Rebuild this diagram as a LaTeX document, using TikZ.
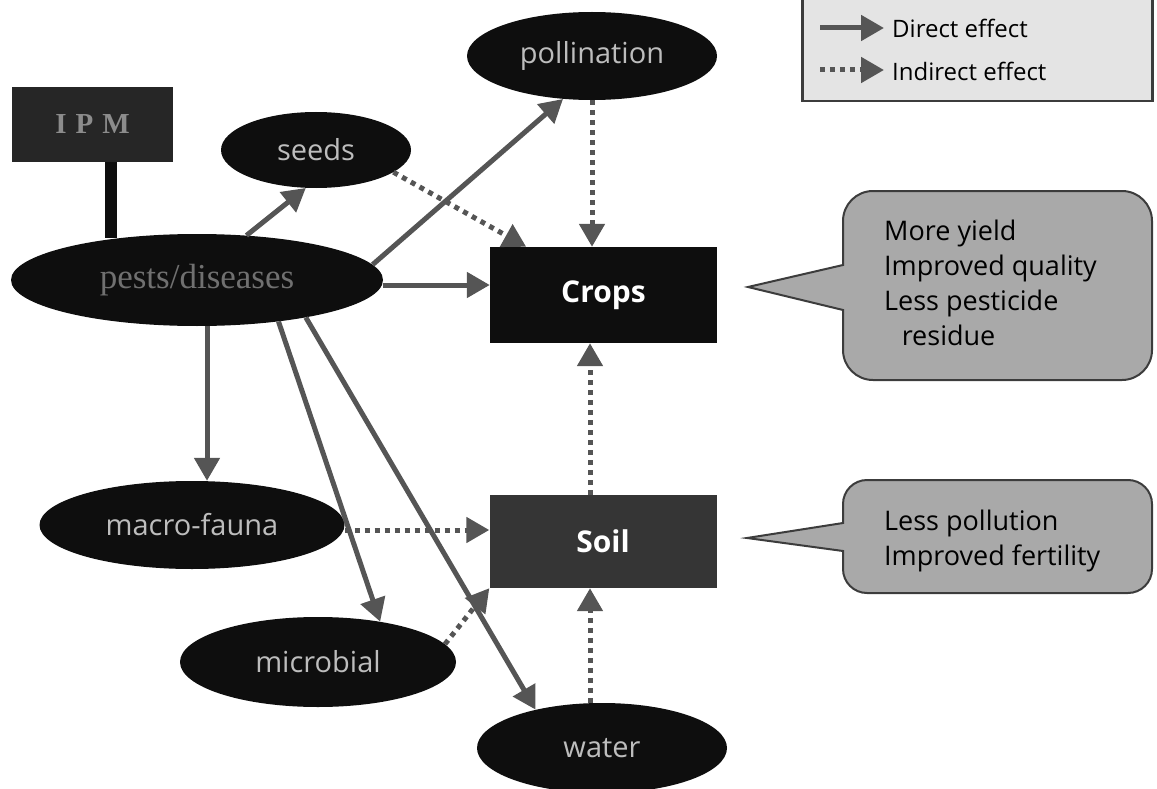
\documentclass[tikz,border=0pt]{standalone}
\usepackage{fontspec}
\setmainfont{Open Sans}
\newfontfamily\serifx{Liberation Serif}
\usetikzlibrary{arrows.meta,shapes.geometric,calc}
\definecolor{arr}{HTML}{555555}
\definecolor{nodeblack}{HTML}{0E0E0E}
\definecolor{soilfill}{HTML}{353535}
\definecolor{elltext}{HTML}{BDBDBD}
\definecolor{peststext}{HTML}{707070}
\definecolor{ipmtext}{HTML}{8C8C8C}
\definecolor{callfill}{HTML}{A9A9A9}
\definecolor{callline}{HTML}{3C3C3C}
\definecolor{legfill}{HTML}{E4E4E4}
\begin{document}
\begin{tikzpicture}[x=1pt,y=-1pt,
  ell/.style={ellipse, fill=nodeblack, text=elltext, inner sep=0pt,
    font=\fontsize{29}{29}\selectfont},
  boxnode/.style={rectangle, inner sep=0pt, text=white,
    font=\bfseries\fontsize{30}{30}\selectfont},
  direct/.style={draw=arr, line width=5pt, -{Triangle[length=23pt,width=25pt]}},
  indirect/.style={draw=arr, line width=5pt, dash pattern=on 5pt off 5pt,
    -{Triangle[length=23pt,width=25pt]}},
  calloutbox/.style={fill=callfill, draw=callline, line width=2pt},
  calltext/.style={anchor=north west, inner sep=0pt, align=left,
    font=\fontsize{27}{35}\selectfont},
  legtext/.style={anchor=west, inner sep=0pt, font=\fontsize{24}{24}\selectfont}
]
\useasboundingbox (0,0) rectangle (1157,789);

% legend
\node[draw=callline, fill=legfill, line width=2.5pt, minimum width=350pt,
  minimum height=112pt, anchor=north west, inner sep=0pt] (legend) at (801,-12) {};
\coordinate (d1) at (820,28);
\coordinate (d2) at (884,28);
\coordinate (i1) at (820,70);
\coordinate (i2) at (884,70);
\draw[direct] (d1) -- (d2);
\draw[indirect] (i1) -- (i2);
\node[legtext] (dtext) at (892,28) {Direct effect};
\node[legtext] (itext) at (892,71) {Indirect effect};

% nodes
\node[rectangle, fill=nodeblack!90!white, minimum width=161pt, minimum height=75pt,
  inner sep=0pt, text=ipmtext, font=\serifx\bfseries\fontsize{29}{29}\selectfont] (ipm)
  at (92.5,124.5) {I\hspace{9pt}P\hspace{9pt}M};
\node[ell, minimum width=372pt, minimum height=92pt, text=peststext,
  font=\serifx\fontsize{35}{35}\selectfont] (pests) at (197,280) {pests/diseases};
\draw[line width=12pt, draw=nodeblack] ([xshift=18pt]ipm.south) -- ([xshift=18pt,yshift=-4pt]ipm.south |- pests.north);
\node[ell, minimum width=190pt, minimum height=76pt] (seeds) at (316,150) {seeds};
\node[ell, minimum width=250pt, minimum height=88pt] (poll) at (592,56) {pollination};
\node[boxnode, fill=nodeblack, minimum width=227pt, minimum height=96pt] (crops) at (603.5,295) {Crops};
\node[ell, minimum width=305pt, minimum height=88pt] (macro) at (192,525) {macro-fauna};
\node[boxnode, fill=soilfill, minimum width=227pt, minimum height=93pt] (soil) at (603,541.5) {Soil};
\node[ell, minimum width=276pt, minimum height=90pt] (micro) at (318,662) {microbial};
\node[ell, minimum width=250pt, minimum height=90pt] (water) at (602,748) {water};

% direct effects
\draw[direct] (pests.42) -- (seeds.-105);
\draw[direct] (pests.5) -- (poll.-124);
\draw[direct] ([yshift=-5pt]pests.east) -- ([yshift=-5pt]pests.east -| crops.west);
\draw[direct] ([xshift=10pt]pests.south) -- ([xshift=10pt]pests.south |- macro.north);
\draw[direct] (pests.-27) -- (micro.33);
\draw[direct] (pests.-19) -- (water.150);

% indirect effects
\draw[indirect] (seeds.-16) -- ($(crops.north west)!0.16!(crops.north east)$);
\draw[indirect] (poll.south) -- (poll.south |- crops.north);
\draw[indirect] ([yshift=-5pt]macro.east) -- ([yshift=-5pt]macro.east -| soil.west);
\draw[indirect] (micro.8) -- (soil.south west);
\draw[indirect] ([xshift=-13pt]soil.north) -- ([xshift=-13pt]soil.north |- crops.south);
\draw[indirect] ([xshift=-12pt]water.north) -- ([xshift=-12pt]water.north |- soil.south);

% callouts
\draw[calloutbox] (1000,191) [rounded corners=30pt] -- (843,191) [sharp corners]
  -- (843,265) -- (748,287) -- (843,310) [rounded corners=30pt] -- (843,380)
  -- (1152,380) -- (1152,191) -- cycle;
\node[calltext] (c1) at (884,220) {More yield\\Improved quality\\Less pesticide\\\hspace*{0.65em}residue};
\draw[calloutbox] (1000,480) [rounded corners=24pt] -- (843,480) [sharp corners]
  -- (843,523) -- (747,538) -- (843,551) [rounded corners=24pt] -- (843,593)
  -- (1152,593) -- (1152,480) -- cycle;
\node[calltext] (c2) at (884,510) {Less pollution\\Improved fertility};
\end{tikzpicture}
\end{document}
